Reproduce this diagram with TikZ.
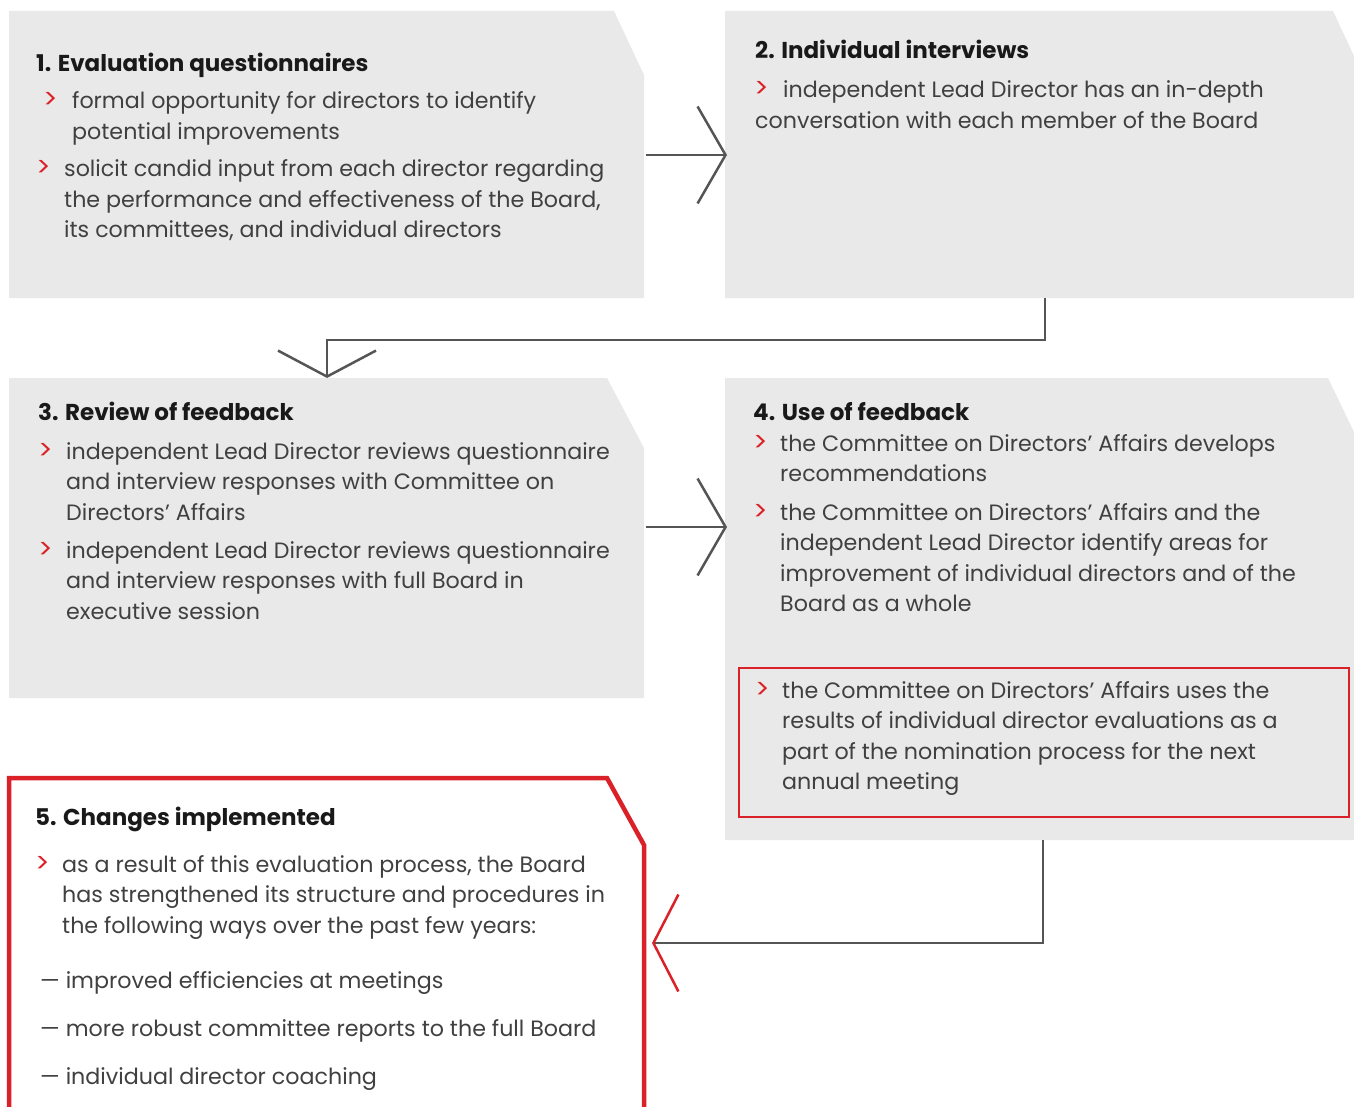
\documentclass[tikz,border=0pt]{standalone}
\usepackage{fontspec}
\setmainfont{Poppins}
\usetikzlibrary{arrows.meta,positioning}

\definecolor{boxgray}{HTML}{E8E9E8}
\definecolor{accent}{HTML}{DA2128}
\definecolor{linegray}{HTML}{555555}
\definecolor{bodytext}{HTML}{404040}

\newcommand{\bodyfont}{\fontsize{22.2}{30.5}\selectfont}
\newcommand{\headfont}{\bfseries\fontsize{23}{26}\selectfont}
\newcommand{\markfont}{\fontsize{27}{30.5}\selectfont}

\tikzset{
  panel/.style={fill=boxgray, draw=none},
  heading/.style={anchor=base west, inner sep=0pt, font=\headfont, text=black!90},
  % base of a multi-line item is its last line
  item/.style={anchor=base west, inner sep=0pt, align=left, font=\bodyfont, text=bodytext},
  bulletmark/.style={anchor=base west, inner sep=0pt, font=\markfont, text=accent},
  flow/.style={draw=linegray, line width=2.5pt},
  barb/.style={-{Straight Barb[length=28pt,width=97pt]}}
}

\begin{document}
\begin{tikzpicture}[x=1pt, y=-1pt]
\useasboundingbox (0,0) rectangle (1354,1107);

% panels
\fill[panel] (9,11) -- (614,11) -- (644,75) -- (644,298) -- (9,298) -- cycle;
\fill[panel] (725,11) -- (1333,11) -- (1354,56) -- (1354,298) -- (725,298) -- cycle;
\fill[panel] (9,378) -- (607,378) -- (644,448) -- (644,698) -- (9,698) -- cycle;
\fill[panel] (725,378) -- (1328,378) -- (1354,432) -- (1354,840) -- (725,840) -- cycle;
\draw[accent, line width=2.5pt] (739,668) rectangle (1349,817);
\draw[accent, line width=4.5pt, fill=white] (9,1115) -- (9,778) -- (607,778) -- (644,845) -- (644,1115);

% 1
\node[heading] (t1) at (36,72) {1. Evaluation questionnaires};
\node[bulletmark] (m11) at (43,109) {>};
\node[item] (i11) at (72,139.5) {formal opportunity for directors to identify\\potential improvements};
\node[bulletmark] (m12) at (36,177) {>};
\node[item] (i12) at (64,238) {solicit candid input from each director regarding\\the performance and effectiveness of the Board,\\its committees, and individual directors};

% 2
\node[heading] (t2) at (755,59) {2. Individual interviews};
\node[bulletmark] (m21) at (754,98) {>};
\node[item] (i21) at (755,128.5) {\hspace*{28pt}independent Lead Director has an in-depth\\conversation with each member of the Board};

% 3
\node[heading] (t3) at (38,420) {3. Review of feedback};
\node[bulletmark] (m31) at (38,459) {>};
\node[item] (i31) at (66,520) {independent Lead Director reviews questionnaire\\and interview responses with Committee on\\Directors’ Affairs};
\node[bulletmark] (m32) at (38,558) {>};
\node[item] (i32) at (66,619) {independent Lead Director reviews questionnaire\\and interview responses with full Board in\\executive session};

% 4
\node[heading] (t4) at (753,420) {4. Use of feedback};
\node[bulletmark] (m41) at (753,451) {>};
\node[item] (i41) at (780,481.5) {the Committee on Directors’ Affairs develops\\recommendations};
\node[bulletmark] (m42) at (753,520) {>};
\node[item] (i42) at (780,611.5) {the Committee on Directors’ Affairs and the\\independent Lead Director identify areas for\\improvement of individual directors and of the\\Board as a whole};
\node[bulletmark] (m43) at (755,698) {>};
\node[item] (i43) at (782,789.5) {the Committee on Directors’ Affairs uses the\\results of individual director evaluations as a\\part of the nomination process for the next\\annual meeting};

% 5
\node[heading] (t5) at (35,825) {5. Changes implemented};
\node[bulletmark] (m51) at (35,872) {>};
\node[item] (i51) at (62,933) {as a result of this evaluation process, the Board\\has strengthened its structure and procedures in\\the following ways over the past few years:};
\node[item] (d1) at (40,988) {— improved efficiencies at meetings};
\node[item] (d2) at (40,1036) {— more robust committee reports to the full Board};
\node[item] (d3) at (40,1084) {— individual director coaching};

% connectors
\coordinate (b1out) at (646,155);
\coordinate (b2in) at (727,155);
\coordinate (b2out) at (1045,298);
\coordinate (b3in) at (327,378);
\coordinate (b3out) at (646,527);
\coordinate (b4in) at (727,527);
\coordinate (b4out) at (1043,840);
\coordinate (b5in) at (652,943);

\draw[flow, barb] (b1out) -- (b2in);
\draw[flow, -{Straight Barb[length=26pt,width=98pt]}] (b2out) -- ++(0,42) -| (b3in);
\draw[flow, barb] (b3out) -- (b4in);
\draw[flow, -{Straight Barb[length=25pt,width=97pt,color=accent]}] (b4out) |- (b5in);
\end{tikzpicture}
\end{document}
